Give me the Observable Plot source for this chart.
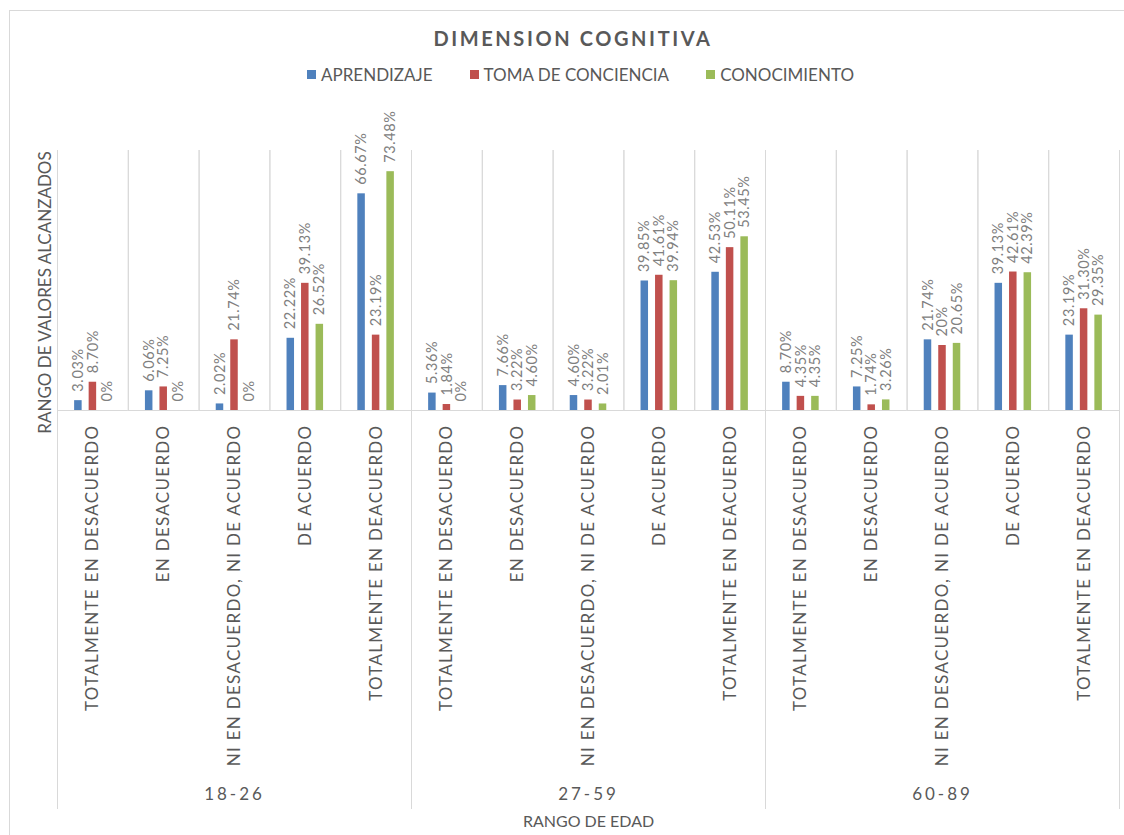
<!DOCTYPE html>
<html>
<head>
<meta charset="utf-8">
<script src="https://cdn.jsdelivr.net/npm/d3@7"></script>
<script src="https://cdn.jsdelivr.net/npm/@observablehq/plot@0.6"></script>
<style>
  html, body { margin: 0; padding: 0; background: #fff; overflow: hidden; }
  #chart { position: relative; width: 1124px; height: 835px; overflow: hidden; font-family: Lato, sans-serif; }
  #box { position: absolute; left: 9px; top: 10px; width: 1140px; height: 900px; border: 1px solid #d9d9d9; box-sizing: border-box; }
  #title { position: absolute; left: 9px; width: 1128px; top: 26px; text-align: center; font-weight: 700; font-size: 20px; line-height: 24px; letter-spacing: 2.6px; color: #595959; }
  #legend { position: absolute; left: 307px; top: 63px; }
  #legend .lg-swatches { font-family: Lato, sans-serif !important; font-size: 17px !important; color: #595959; min-height: 22px !important; margin: 0 !important; }
  #legend .lg-swatch { margin-right: 37px !important; }
  #legend .lg-swatch > svg { margin-right: 5px !important; }
  #plot { position: absolute; left: 0; top: 100px; }
  g[aria-label="fx-axis tick label"] text { letter-spacing: 1.3px; }
</style>
</head>
<body>
<div id="chart">
  <div id="box"></div>
  <div id="title">DIMENSION COGNITIVA</div>
  <div id="legend"></div>
  <div id="plot"></div>
</div>
<script>
// Age ranges, answer categories and the three measured dimensions
const groups = ["18-26", "27-59", "60-89"];
const categories = [
  "TOTALMENTE EN DESACUERDO",
  "EN DESACUERDO",
  "NI EN DESACUERDO, NI DE ACUERDO",
  "DE ACUERDO",
  "TOTALMENTE EN DEACUERDO"
];
const series = ["APRENDIZAJE", "TOMA DE CONCIENCIA", "CONOCIMIENTO"];
const colors = ["#4f81bd", "#c0504d", "#9bbb59"];

// Percentages, five answer categories per age range (18-26, 27-59, 60-89)
const aprendizaje      = [3.03, 6.06, 2.02, 22.22, 66.67,   5.36, 7.66, 4.60, 39.85, 42.53,   8.70, 7.25, 21.74, 39.13, 23.19];
const tomaDeConciencia = [8.70, 7.25, 21.74, 39.13, 23.19,  1.84, 3.22, 3.22, 41.61, 50.11,   4.35, 1.74, 20, 42.61, 31.30];
const conocimiento     = [0, 0, 0, 26.52, 73.48,            0, 4.60, 2.01, 39.94, 53.45,      4.35, 3.26, 20.65, 42.39, 29.35];
const valuesBySeries = [aprendizaje, tomaDeConciencia, conocimiento];

const keyOf = (g, c) => `${g}|${c}`;
const keys = groups.flatMap(g => categories.map(c => keyOf(g, c)));
const fmt = v => Number.isInteger(v) ? `${v}%` : `${v.toFixed(2)}%`;

const rows = [];
keys.forEach((key, i) => {
  series.forEach((s, si) => {
    const value = valuesBySeries[si][i];
    rows.push({key, series: s, value, label: fmt(value)});
  });
});

const grid = "#d9d9d9";

const chart = Plot.plot({
  width: 1124,
  height: 735,
  marginLeft: 57,
  marginRight: 5,
  marginTop: 50,
  marginBottom: 425,
  style: {fontFamily: "Lato, sans-serif", color: "#595959", background: "transparent", overflow: "visible"},
  fx: {domain: keys, padding: 0, round: false, axis: null},
  x: {domain: series, paddingInner: 0.483, paddingOuter: 1.18, round: false, axis: null},
  y: {domain: [0, 80], axis: null},
  color: {domain: series, range: colors},
  marks: [
    // vertical separators between answer categories
    Plot.frame({anchor: "left", stroke: grid}),
    Plot.frame({anchor: "right", stroke: grid}),
    // separators between age ranges, running down through the labels
    ...groups.map(g => Plot.frame({anchor: "left", stroke: grid, fx: () => keyOf(g, categories[0]), insetTop: 260, insetBottom: -398})),
    Plot.frame({anchor: "right", stroke: grid, fx: () => keyOf(groups[groups.length - 1], categories[categories.length - 1]), insetTop: 260, insetBottom: -398}),
    Plot.ruleY([0], {stroke: grid}),
    Plot.barY(rows, {fx: "key", x: "series", y: "value", fill: "series"}),
    Plot.text(rows, {
      fx: "key", x: "series", y: "value", text: "label",
      rotate: -90, textAnchor: "start", lineAnchor: "middle", dy: -9,
      fill: "#808080", fontSize: 14.5
    }),
    Plot.axisFx({
      anchor: "bottom", tickFormat: k => k.split("|")[1], tickRotate: -90,
      tickSize: 0, tickPadding: 14, fontSize: 17, label: null, fill: "#595959"
    }),
    Plot.text(groups, {
      fx: g => keyOf(g, categories[2]), frameAnchor: "bottom", dy: 389, text: d => d,
      fontSize: 17, fill: "#595959"
    }),
    Plot.text(["RANGO DE EDAD"], {
      fx: () => keyOf(groups[1], categories[2]), frameAnchor: "bottom", dy: 416, text: d => d,
      fontSize: 16, fill: "#595959"
    }),
    Plot.text(["RANGO DE VALORES ALCANZADOS"], {
      fx: () => keyOf(groups[0], categories[0]), frameAnchor: "left", rotate: -90, dx: -12, dy: 12,
      textAnchor: "middle", text: d => d, fontSize: 17, fill: "#595959"
    })
  ]
});
document.getElementById("plot").appendChild(chart);

// wider tracking for the age-range labels and the value labels
const svg = d3.select(chart);
svg.selectAll("text").filter(function () { return groups.includes(this.textContent); })
  .style("letter-spacing", "3px");
svg.selectAll("text").filter(function () { return /%$/.test(this.textContent); })
  .style("letter-spacing", "0.6px");

const legend = Plot.legend({
  color: {domain: series, range: colors},
  swatchSize: 9,
  className: "lg"
});
document.getElementById("legend").appendChild(legend);
</script>
</body>
</html>
